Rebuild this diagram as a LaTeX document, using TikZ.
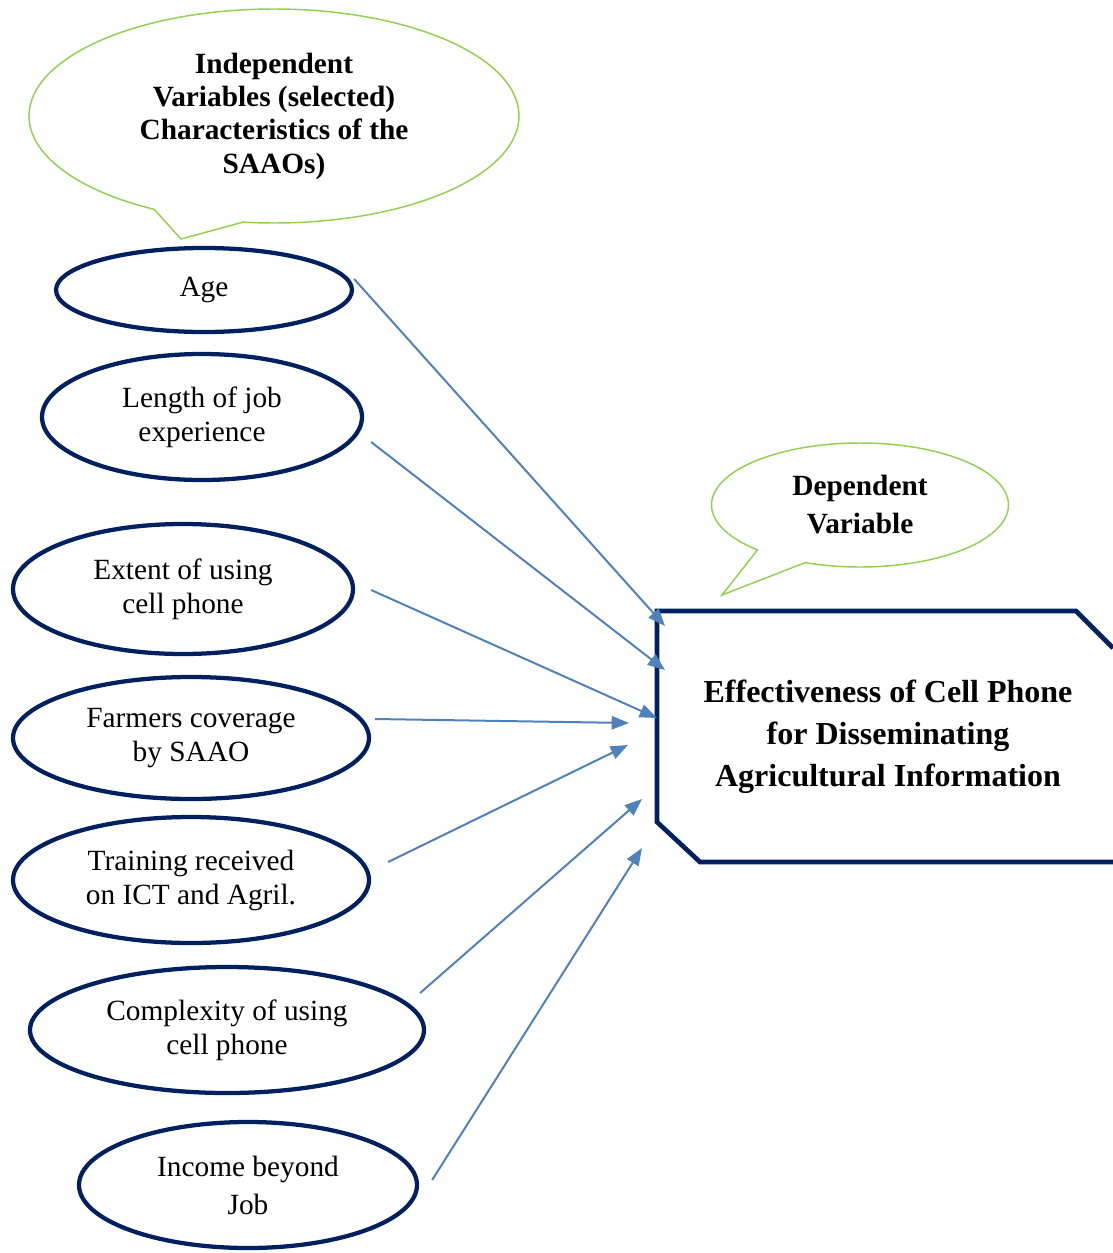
\documentclass[tikz,border=0pt]{standalone}
\usepackage{fontspec}
\setmainfont{Liberation Serif}
\usetikzlibrary{shapes.geometric,shapes.callouts,arrows.meta}
\definecolor{navy}{HTML}{002060}
\definecolor{linkblue}{HTML}{4F81BD}
\definecolor{bubblegreen}{HTML}{92D050}
\begin{document}
\begin{tikzpicture}[x=0.75pt,y=0.75pt,
    var/.style={ellipse, draw=navy, line width=3.2pt, inner sep=0pt, align=center,
        font=\fontsize{22}{25.5}\selectfont},
    bubble/.style={ellipse callout, draw=bubblegreen, line width=1.1pt, inner sep=0pt,
        align=center, font=\fontsize{22}{25}\selectfont\bfseries},
    link/.style={draw=linkblue, line width=1.5pt, -{Triangle[length=13pt,width=10pt]}}]
            \useasboundingbox (0,0) rectangle (1113,-1253);

            % callouts
            \node[bubble, minimum width=367.5pt, minimum height=160.5pt, callout pointer arc=22,
                callout absolute pointer={(181,-239)}] (indep) at (274,-116)
                {Independent\\Variables (selected)\\Characteristics of the\\SAAOs)};
            \node[bubble, minimum width=222.75pt, minimum height=93pt, callout pointer arc=22,
                callout absolute pointer={(722,-595)},
                font=\fontsize{22}{28.5}\selectfont\bfseries] (dep) at (860,-505)
                {Dependent\\Variable};

            % independent variables
            \node[var, minimum width=222pt, minimum height=63pt] (age) at (204,-290) {Age};
            \node[var, minimum width=240pt, minimum height=94.5pt] (len) at (202,-417) {Length of job\\experience};
            \node[var, minimum width=255pt, minimum height=97.5pt] (ext) at (183,-589) {Extent of using\\cell phone};
            \node[var, minimum width=267pt, minimum height=91.5pt] (farm) at (191,-738) {Farmers coverage\\by SAAO};
            \node[var, minimum width=267pt, minimum height=94.5pt] (train) at (191,-880) {Training received\\on ICT and Agril.};
            \node[var, minimum width=295.5pt, minimum height=94.5pt] (comp) at (227,-1030) {Complexity of using\\cell phone};
            \node[var, minimum width=253.5pt, minimum height=94.5pt, font=\fontsize{22}{28.5}\selectfont]
                (inc) at (248,-1185) {Income beyond\\Job};

            % dependent variable
            \draw[navy, line width=3.5pt] (1113,-648) -- (1076,-611) -- (657,-611) -- (657,-822)
                -- (700,-862) -- (1113,-862);
            \node[align=center, font=\fontsize{24}{31.5}\selectfont\bfseries] (eff) at (888,-737)
                {Effectiveness of Cell Phone\\for Disseminating\\Agricultural Information};

            % arrow tips
            \coordinate (t1) at (665,-626);
            \coordinate (t2) at (665,-670);
            \coordinate (t3) at (657,-718);
            \coordinate (t4) at (629,-723);
            \coordinate (t5) at (628,-745);
            \coordinate (t6) at (642,-799);
            \coordinate (t7) at (642,-848);

            \draw[link] ([shift={(0,11)}]age.east) -- (t1);
            \draw[link] ([shift={(7,-25)}]len.east) -- (t2);
            \draw[link] ([shift={(16,-1)}]ext.east) -- (t3);
            \draw[link] ([shift={(4,19)}]farm.east) -- (t4);
            \draw[link] ([shift={(17,18)}]train.east) -- (t5);
            \draw[link] ([shift={(-6,37)}]comp.east) -- (t6);
            \draw[link] ([shift={(13,5)}]inc.east) -- (t7);
\end{tikzpicture}
\end{document}
